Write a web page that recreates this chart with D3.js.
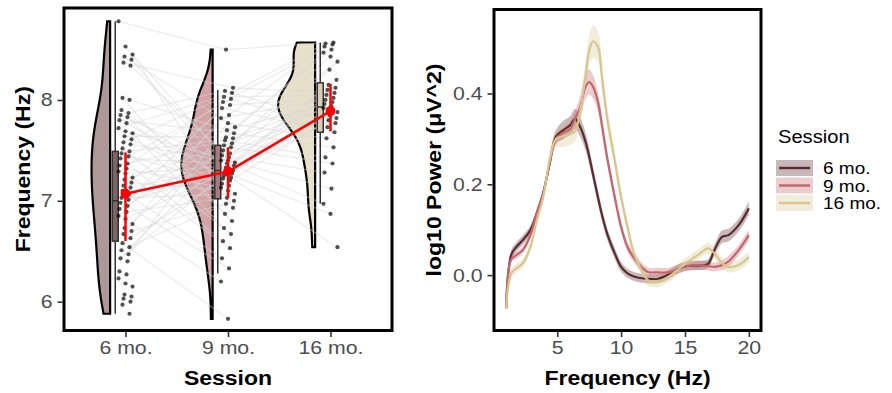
<!DOCTYPE html>
<html>
<head>
<meta charset="utf-8">
<script src="https://cdn.jsdelivr.net/npm/d3@7"></script>
<style>
  body { margin: 0; background: #fff; }
  text { font-family: "Liberation Sans", Arial, sans-serif; }
</style>
</head>
<body>
<div id="chart"></div>
<script>
// ---- left panel: peak frequency per session ----
const sessions = ['6 mo.', '9 mo.', '16 mo.']

const freq6 = [8.78, 8.53, 8.45, 8.43, 8.40, 8.37, 8.34, 8.02, 8.0, 7.9, 7.87, 7.85, 7.83, 7.8, 7.77, 7.72,
  7.69, 7.67, 7.64, 7.61, 7.58, 7.56, 7.52, 7.49, 7.47, 7.44, 7.42, 7.37, 7.35, 7.32, 7.29, 7.27, 7.23,
  7.21, 7.18, 7.15, 7.13, 7.1, 7.07, 7.03, 7.01, 6.98, 6.95, 6.92, 6.89, 6.85, 6.82, 6.77, 6.73, 6.7,
  6.67, 6.63, 6.58, 6.54, 6.51, 6.47, 6.43, 6.4, 6.3, 6.27, 6.23, 6.18, 6.15, 6.07, 6.05, 6.03, 6.0,
  5.97, 5.88]
const freq9 = [8.5, 8.12, 8.09, 8.07, 8.03, 8.01, 7.98, 7.95, 7.92, 7.85, 7.82, 7.77, 7.73, 7.7, 7.67,
  7.63, 7.62, 7.6, 7.57, 7.55, 7.53, 7.5, 7.47, 7.45, 7.43, 7.4, 7.4, 7.38, 7.37, 7.35, 7.33, 7.3, 7.28,
  7.27, 7.25, 7.23, 7.22, 7.2, 7.17, 7.15, 7.13, 7.1, 7.07, 7.03, 7.0, 6.97, 6.93, 6.87, 6.8, 6.73,
  6.67, 6.6, 6.53, 6.43, 6.33, 6.2, 5.83]
const freq16 = [8.57, 8.56, 8.55, 8.53, 8.5, 8.47, 8.43, 8.38, 8.3, 8.2, 8.15, 8.12, 8.1, 8.07, 8.05,
  8.02, 8.0, 7.98, 7.96, 7.94, 7.92, 7.9, 7.88, 7.85, 7.82, 7.8, 7.77, 7.73, 7.68, 7.62, 7.53, 7.43,
  7.37, 7.28, 7.12, 6.97, 6.87, 6.54]

// box plot stats (q1, median, q3, whisker ends)
const boxQ1 = [6.6, 7.02, 7.68]
const boxMed = [7.0, 7.3, 7.93]
const boxQ3 = [7.49, 7.55, 8.17]
const whiskLo = [5.88, 6.28, 6.97]
const whiskHi = [8.78, 8.1, 8.57]

// red mean +/- error
const meanVals = [7.07, 7.29, 7.89]
const errLo = [6.6, 7.03, 7.69]
const errHi = [7.48, 7.53, 8.16]

const violinFill = ['#ae9898', '#d3a3a6', '#e9e0c9']
const boxFill = ['#7d6565', '#a87a7d', '#d9cfb4']

// ---- right panel: power spectra ----
const freqHz = [1, 1.4, 1.8, 2.3, 2.9, 3.4, 3.9, 4.4, 4.9, 5.5, 6.0, 6.4, 6.8, 7.2, 7.5, 7.8, 8.2, 8.5,
  8.9, 9.5, 10.0, 10.5, 11.0, 11.6, 12.1, 12.9, 13.7, 14.4, 15.2, 16.0, 16.8, 17.3, 17.9, 18.4, 19.2, 20]
const pow6 = [-0.073, 0.045, 0.062, 0.077, 0.099, 0.136, 0.18, 0.245, 0.305, 0.32, 0.33, 0.344, 0.326,
  0.295, 0.262, 0.222, 0.17, 0.133, 0.092, 0.048, 0.018, 0.004, -0.003, -0.007, -0.008, -0.008, 0.001,
  0.013, 0.02, 0.021, 0.025, 0.055, 0.084, 0.088, 0.11, 0.147]
const pow9 = [-0.073, 0.035, 0.044, 0.055, 0.088, 0.136, 0.18, 0.245, 0.3, 0.314, 0.322, 0.345, 0.37,
  0.414, 0.425, 0.415, 0.38, 0.33, 0.26, 0.172, 0.106, 0.062, 0.038, 0.018, 0.007, 0.006, 0.006, 0.013,
  0.02, 0.022, 0.02, 0.018, 0.022, 0.03, 0.055, 0.088]
const pow16 = [-0.073, 0.004, 0.015, 0.026, 0.062, 0.121, 0.172, 0.253, 0.3, 0.306, 0.311, 0.317, 0.363,
  0.436, 0.494, 0.515, 0.502, 0.436, 0.348, 0.253, 0.172, 0.106, 0.048, 0.011, -0.011, -0.015, -0.004,
  0.011, 0.029, 0.044, 0.059, 0.048, 0.026, 0.018, 0.022, 0.04]
const se6 = [0.01, 0.01, 0.01, 0.01, 0.01, 0.01, 0.01, 0.012, 0.015, 0.02, 0.02, 0.022, 0.022, 0.02, 0.018,
  0.016, 0.015, 0.014, 0.013, 0.012, 0.011, 0.01, 0.01, 0.01, 0.01, 0.01, 0.01, 0.01, 0.01, 0.01, 0.01,
  0.012, 0.014, 0.014, 0.014, 0.015]
const se9 = [0.008, 0.008, 0.008, 0.008, 0.008, 0.008, 0.009, 0.01, 0.012, 0.013, 0.014, 0.018, 0.024,
  0.028, 0.028, 0.026, 0.022, 0.018, 0.015, 0.013, 0.012, 0.011, 0.01, 0.01, 0.01, 0.01, 0.01, 0.01, 0.01,
  0.01, 0.01, 0.01, 0.011, 0.012, 0.012, 0.012]
const se16 = [0.01, 0.01, 0.01, 0.01, 0.01, 0.01, 0.012, 0.015, 0.02, 0.024, 0.024, 0.022, 0.025, 0.03,
  0.034, 0.036, 0.034, 0.03, 0.025, 0.02, 0.016, 0.014, 0.012, 0.012, 0.012, 0.012, 0.012, 0.012, 0.012,
  0.012, 0.012, 0.012, 0.012, 0.012, 0.012, 0.012]
const lineColors = ['#5a2b30', '#c4676c', '#d8c590']

const yTicksLeft = [6, 7, 8]
const yTicksRight = [0.0, 0.2, 0.4]
const xTicksRight = [5, 10, 15, 20]

const width = 892, height = 393
const svg = d3.select('#chart').append('svg')
  .attr('width', width).attr('height', height)
svg.append('rect').attr('width', width).attr('height', height).attr('fill', '#fff')

const tickGrey = '#333333', labGrey = '#4d4d4d'

// ================= left panel =================
const L = { left: 64, right: 392, top: 8, bottom: 330.5 }
const xL = d3.scalePoint().domain(sessions).range([L.left, L.right]).padding(0.6)
const step = xL.step()
const yL = d3.scaleLinear().domain([5.714, 8.912]).range([L.bottom, L.top])

const gL = svg.append('g')
const allData = [freq6, freq9, freq16]

// kernel density for the flat violins
function kde(values) {
  const n = values.length
  const sorted = values.slice().sort(d3.ascending)
  const sd = d3.deviation(values)
  const iqr = d3.quantile(sorted, 0.75) - d3.quantile(sorted, 0.25)
  const bw = 0.9 * Math.min(sd, iqr / 1.34) * Math.pow(n, -0.2)
  const lo = d3.min(values), hi = d3.max(values)
  return d3.range(0, 101).map(i => {
    const y = lo + (hi - lo) * i / 100
    const d = d3.sum(values, v => Math.exp(-0.5 * ((y - v) / bw) ** 2)) / (n * bw * Math.sqrt(2 * Math.PI))
    return [y, d]
  })
}
const dens = allData.map(kde)
const maxD = d3.max(dens, ds => d3.max(ds, d => d[1]))
const wScale = d3.scaleLinear().domain([0, maxD]).range([0, 37])

dens.forEach((ds, i) => {
  const xr = xL(sessions[i]) - 0.15 * step
  const area = d3.area()
    .y(d => yL(d[0]))
    .x0(xr)
    .x1(d => xr - wScale(d[1]))
    .curve(d3.curveBasis)
  gL.append('path').datum(ds)
    .attr('d', area)
    .attr('fill', violinFill[i])
    .attr('stroke', '#000').attr('stroke-width', 2.2)
})

// jittered point positions
const jitter = (i) => ((i * 37) % 15 - 7) * step / 102.5
const pts = allData.map((vals, s) => vals.map((v, i) => ({ x: xL(sessions[s]) + jitter(i + s * 5), y: yL(v) })))

// paired subject lines
const pairLines = []
pts[0].forEach((p, i) => {
  if (i < pts[1].length) pairLines.push([p, pts[1][(i * 23) % pts[1].length]])
})
pts[1].forEach((p, j) => {
  if (j < pts[2].length) pairLines.push([p, pts[2][(j * 13) % pts[2].length]])
})
gL.append('g').selectAll('line').data(pairLines).join('line')
  .attr('x1', d => d[0].x).attr('y1', d => d[0].y)
  .attr('x2', d => d[1].x).attr('y2', d => d[1].y)
  .attr('stroke', '#d6d6d6').attr('stroke-opacity', 0.45).attr('stroke-width', 1.3)

// box plots
sessions.forEach((s, i) => {
  const cx = xL(s) - 0.1 * step
  const bw = 6
  const g = gL.append('g')
  g.append('line').attr('x1', cx).attr('x2', cx)
    .attr('y1', yL(whiskHi[i])).attr('y2', yL(boxQ3[i]))
    .attr('stroke', tickGrey).attr('stroke-width', 1.5)
  g.append('line').attr('x1', cx).attr('x2', cx)
    .attr('y1', yL(boxQ1[i])).attr('y2', yL(whiskLo[i]))
    .attr('stroke', tickGrey).attr('stroke-width', 1.5)
  g.append('rect').attr('x', cx - bw / 2).attr('width', bw)
    .attr('y', yL(boxQ3[i])).attr('height', yL(boxQ1[i]) - yL(boxQ3[i]))
    .attr('fill', boxFill[i]).attr('stroke', tickGrey).attr('stroke-width', 1.5)
  g.append('line').attr('x1', cx - bw / 2).attr('x2', cx + bw / 2)
    .attr('y1', yL(boxMed[i])).attr('y2', yL(boxMed[i]))
    .attr('stroke', tickGrey).attr('stroke-width', 1.5)
})

// jittered points
gL.append('g').selectAll('circle').data(pts.flat()).join('circle')
  .attr('cx', d => d.x).attr('cy', d => d.y).attr('r', 2.1)
  .attr('fill', '#000').attr('fill-opacity', 0.68)

// red means + error bars
const meanPts = sessions.map((s, i) => [xL(s), yL(meanVals[i])])
gL.append('path').attr('d', d3.line()(meanPts))
  .attr('fill', 'none').attr('stroke', '#ff0000').attr('stroke-width', 2.5)
sessions.forEach((s, i) => {
  gL.append('line').attr('x1', xL(s)).attr('x2', xL(s))
    .attr('y1', yL(errLo[i])).attr('y2', yL(errHi[i]))
    .attr('stroke', '#ff0000').attr('stroke-width', 2.5)
})
gL.append('g').selectAll('circle').data(meanPts).join('circle')
  .attr('cx', d => d[0]).attr('cy', d => d[1]).attr('r', 5).attr('fill', '#ff0000')

// border + axes
gL.append('rect').attr('x', L.left).attr('y', L.top)
  .attr('width', L.right - L.left).attr('height', L.bottom - L.top)
  .attr('fill', 'none').attr('stroke', '#000').attr('stroke-width', 3)

function styleAxis(g) {
  g.select('.domain').remove()
  g.selectAll('.tick line').attr('stroke', tickGrey).attr('stroke-width', 1.6)
  g.selectAll('.tick text').attr('fill', labGrey).attr('font-size', 18.5)
}

svg.append('g').attr('transform', `translate(${L.left - 1.5},0)`)
  .call(d3.axisLeft(yL).tickValues(yTicksLeft).tickFormat(d3.format('d')).tickSize(5).tickPadding(5))
  .call(styleAxis)
svg.append('g').attr('transform', `translate(0,${L.bottom + 1.5})`)
  .call(d3.axisBottom(xL).tickSize(5).tickPadding(4))
  .call(styleAxis)

svg.append('text').attr('x', (L.left + L.right) / 2).attr('y', 385)
  .attr('text-anchor', 'middle').attr('font-weight', 'bold').attr('font-size', 20)
  .text('Session')
svg.append('text').attr('transform', `translate(30,${(L.top + L.bottom) / 2}) rotate(-90)`)
  .attr('text-anchor', 'middle').attr('font-weight', 'bold').attr('font-size', 20)
  .text('Frequency (Hz)')

// ================= right panel =================
const R = { left: 494, right: 761, top: 9.5, bottom: 330.5 }
const xR = d3.scaleLinear().domain([0.05, 20.95]).range([R.left, R.right])
const yR = d3.scaleLinear().domain([-0.122, 0.585]).range([R.bottom, R.top])
const gR = svg.append('g')

const series = [pow6, pow9, pow16]
const seArr = [se6, se9, se16]

series.forEach((vals, s) => {
  const rows = freqHz.map((f, i) => ({ f, v: vals[i], se: seArr[s][i] }))
  gR.append('path').datum(rows)
    .attr('d', d3.area().x(d => xR(d.f)).y0(d => yR(d.v - d.se)).y1(d => yR(d.v + d.se)).curve(d3.curveCatmullRom))
    .attr('fill', lineColors[s]).attr('fill-opacity', 0.33)
})
series.forEach((vals, s) => {
  const rows = freqHz.map((f, i) => ({ f, v: vals[i] }))
  gR.append('path').datum(rows)
    .attr('d', d3.line().x(d => xR(d.f)).y(d => yR(d.v)).curve(d3.curveCatmullRom))
    .attr('fill', 'none').attr('stroke', lineColors[s]).attr('stroke-width', 2.2)
})

gR.append('rect').attr('x', R.left).attr('y', R.top)
  .attr('width', R.right - R.left).attr('height', R.bottom - R.top)
  .attr('fill', 'none').attr('stroke', '#000').attr('stroke-width', 3)

svg.append('g').attr('transform', `translate(${R.left - 1.5},0)`)
  .call(d3.axisLeft(yR).tickValues(yTicksRight).tickFormat(d3.format('.1f')).tickSize(5).tickPadding(5))
  .call(styleAxis)
svg.append('g').attr('transform', `translate(0,${R.bottom + 1.5})`)
  .call(d3.axisBottom(xR).tickValues(xTicksRight).tickFormat(d3.format('d')).tickSize(5).tickPadding(4))
  .call(styleAxis)

svg.append('text').attr('x', (R.left + R.right) / 2).attr('y', 385)
  .attr('text-anchor', 'middle').attr('font-weight', 'bold').attr('font-size', 20)
  .text('Frequency (Hz)')
svg.append('text').attr('transform', `translate(441,${(R.top + R.bottom) / 2}) rotate(-90)`)
  .attr('text-anchor', 'middle').attr('font-weight', 'bold').attr('font-size', 20)
  .text('log10 Power (μV^2)')

// ================= legend =================
const lg = svg.append('g').attr('transform', 'translate(776,0)')
lg.append('text').attr('x', 2).attr('y', 143).attr('font-size', 17.5).text('Session')
sessions.forEach((s, i) => {
  const cy = 168 + i * 17.5
  lg.append('rect').attr('x', 0).attr('y', cy - 8).attr('width', 37).attr('height', 16)
    .attr('fill', lineColors[i]).attr('fill-opacity', 0.33)
  lg.append('line').attr('x1', 3).attr('x2', 34).attr('y1', cy).attr('y2', cy)
    .attr('stroke', lineColors[i]).attr('stroke-width', 2.5)
  lg.append('text').attr('x', 47).attr('y', cy + 6).attr('font-size', 16.5).text(s)
})

// widen glyphs a bit to match the reference's lettering
svg.selectAll('text').each(function () {
  const len = this.getComputedTextLength()
  d3.select(this).attr('textLength', len * 1.15).attr('lengthAdjust', 'spacingAndGlyphs')
})
</script>
</body>
</html>
